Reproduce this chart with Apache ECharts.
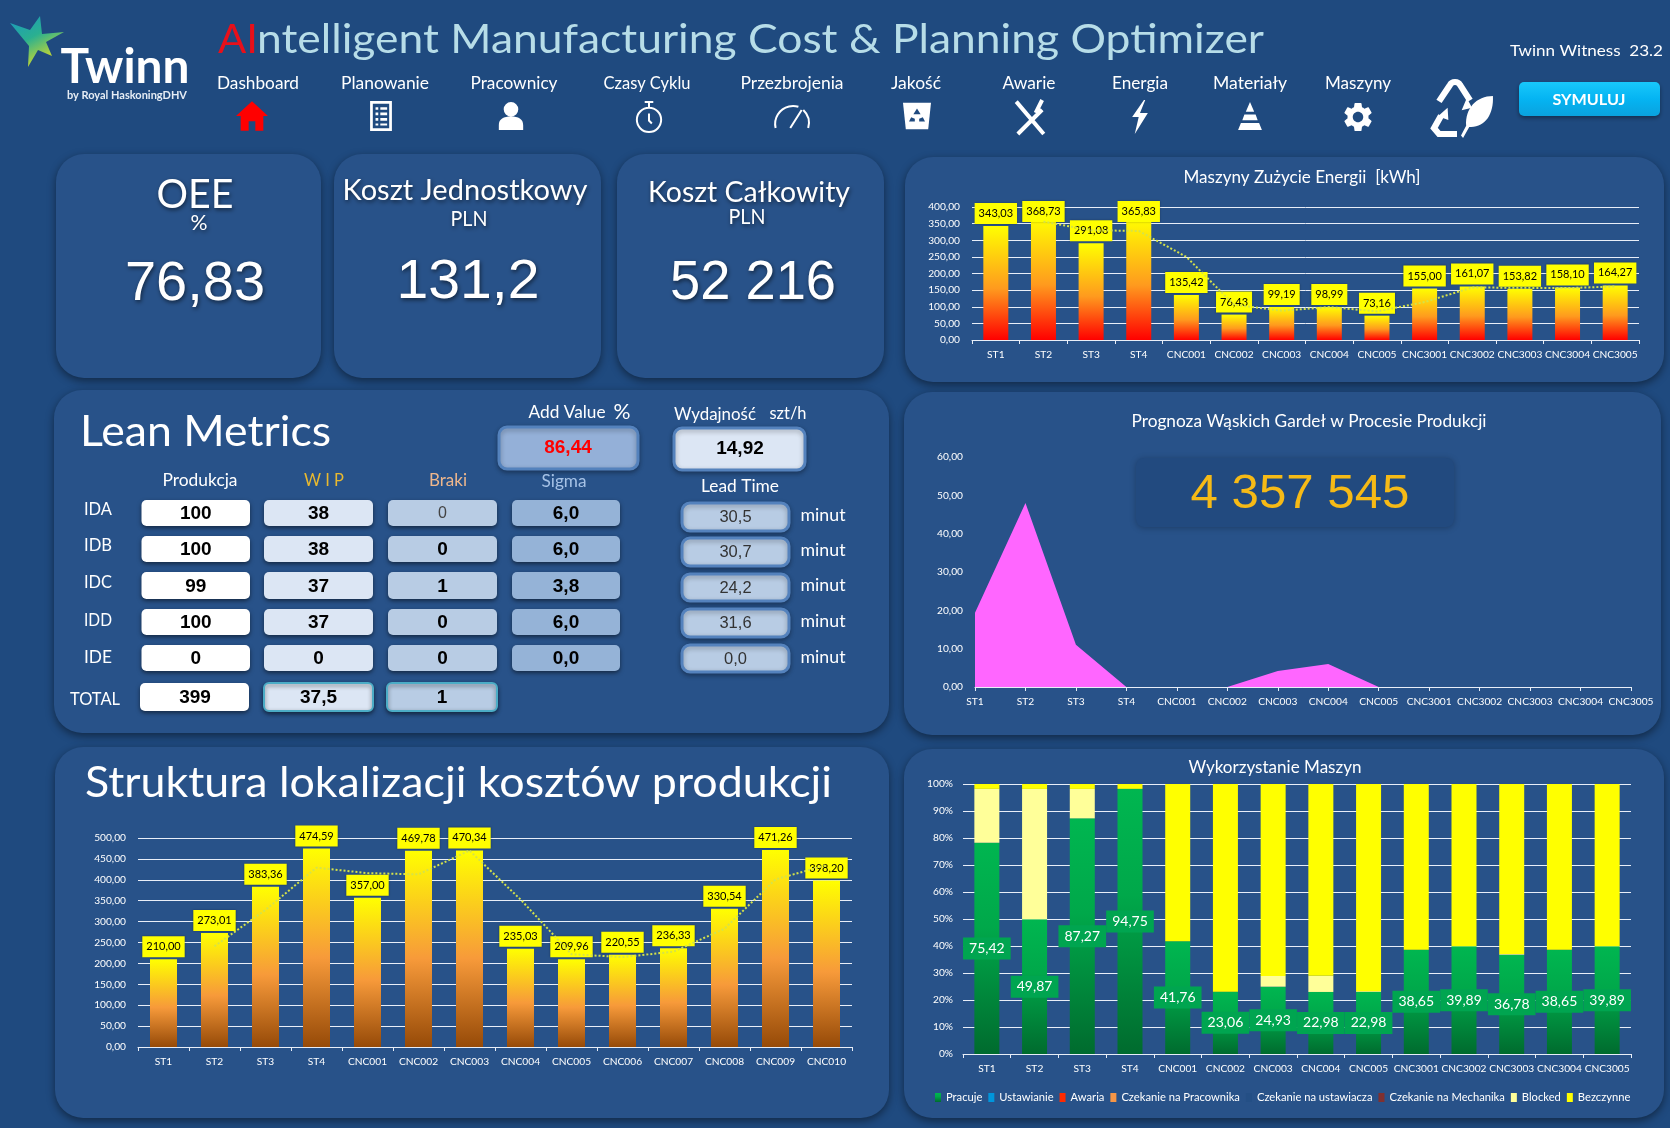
<!DOCTYPE html>
<html><head><meta charset="utf-8">
<style>html,body{margin:0;padding:0;background:#1f4a7f}#c{width:1670px;height:1128px}</style>
<script src="https://cdn.jsdelivr.net/npm/echarts@6/dist/echarts.min.js"></script>
</head><body><div id="c"></div>
<svg id="m" width="10" height="10" style="position:absolute;left:-100px;top:-100px"><path id="mp"></path></svg>
<script>
// ---- data
const energyCats=['ST1','ST2','ST3','ST4','CNC001','CNC002','CNC003','CNC004','CNC005','CNC3001','CNC3002','CNC3003','CNC3004','CNC3005'];
const energyVals=[343.03,368.73,291.08,365.83,135.42,76.43,99.19,98.99,73.16,155.00,161.07,153.82,158.10,164.27];
const energyTrend=[null,356,330,328,250,106,88,99,86,114,158,157,156,161];
const costCats=['ST1','ST2','ST3','ST4','CNC001','CNC002','CNC003','CNC004','CNC005','CNC006','CNC007','CNC008','CNC009','CNC010'];
const costVals=[210.00,273.01,383.36,474.59,357.00,469.78,470.34,235.03,209.96,220.55,236.33,330.54,471.26,398.20];
const costTrend=[null,241,328,429,416,413,470,353,222,215,228,283,401,435];
const bottleVals=[19.4,48,11,0,0,0,4.2,6,0,0,0,0,0,0];
const usePracuje=[78.2,49.87,87.27,98.2,41.76,23.06,24.93,22.98,22.98,38.65,39.89,36.78,38.65,39.89];
const usePracujeLabels=['75,42','49,87','87,27','94,75','41,76','23,06','24,93','22,98','22,98','38,65','39,89','36,78','38,65','39,89'];
const useBlocked=[20,48.3,10.9,0,0,0,4,6,0.3,0,0,0.3,0,0];
const useIdle=[1.8,1.83,1.83,1.8,58.24,76.94,71.07,71.02,76.72,61.35,60.11,62.92,61.35,60.11];
const navLabels=['Dashboard','Planowanie','Pracownicy','Czasy Cyklu','Przezbrojenia','Jakość','Awarie','Energia','Materiały','Maszyny'];
const rowNames=['IDA','IDB','IDC','IDD','IDE'];
const prodVals=['100','100','99','100','0'];
const wipVals=['38','38','37','37','0'];
const brakiVals=['0','0','1','0','0'];
const sigmaVals=['6,0','6,0','3,8','6,0','0,0'];
const leadVals=['30,5','30,7','24,2','31,6','0,0'];
const totals=['399','37,5','1'];
// ---- drawing helpers
const CAL='Lato', ARI='"Liberation Sans"';
const mctx=document.createElement('canvas').getContext('2d');
const G=[];
function T(text,x,y,o){o=o||{};
  const fam=o.family||CAL,size=o.size||16,weight=o.weight||'normal';
  let scaleX=1;
  if(o.w){mctx.font=weight+' '+size+'px '+fam;scaleX=o.w/mctx.measureText(text).width;}
  const style={text,x:0,y:0,fill:o.color||'#fff',font:weight+' '+size+'px '+fam,textAlign:o.align||'center',textVerticalAlign:'middle'};
  if(o.shadow){style.textShadowColor='rgba(0,0,0,.55)';style.textShadowBlur=4;style.textShadowOffsetX=1;style.textShadowOffsetY=2;}
  G.push({type:'text',x,y:y+size*0.05,scaleX,z:3,silent:true,style});
}
function R(x1,y1,x2,y2,r,fill,o){o=o||{};
  const style={fill};
  if(o.stroke){style.stroke=o.stroke;style.lineWidth=o.lw||2;}
  if(o.shadow!==false){style.shadowColor='rgba(0,0,0,'+(o.sa||.4)+')';style.shadowBlur=o.sb||5;style.shadowOffsetY=o.sy||2;style.shadowOffsetX=o.sx||0;}
  G.push({type:'rect',z:o.z||1,silent:true,shape:{x:x1,y:y1,width:x2-x1,height:y2-y1,r},style});
}
let pathN=0;
const mp=document.getElementById('mp');
function P(d,x,y,w,h,style,layout){
  mp.setAttribute('d',d);
  const b=mp.getBBox();
  let sx=w/b.width,sy=h/b.height;
  let ox=x,oy=y;
  if(layout!=='cover'){const s=Math.min(sx,sy);sx=sy=s;ox=x+(w-b.width*s)/2;oy=y+(h-b.height*s)/2;}
  const name='iconPath'+(++pathN);
  echarts.graphic.registerShape(name,echarts.graphic.extendPath(d,{}));
  const st=Object.assign({},style);
  if(st.lineWidth)st.lineWidth=st.lineWidth/Math.min(sx,sy);
  G.push({type:name,z:2,silent:true,x:ox-b.x*sx,y:oy-b.y*sy,scaleX:sx,scaleY:sy,style:st});
}
const fillW={fill:'#fff'}, strW={fill:'none',stroke:'#fff',lineWidth:2};
// ---- cards
const CARD='#285289';
[[56,154,321,378],[334,154,601,378],[617,154,884,378],[905,157,1664,382],[54,390,889,733],[904,392,1661,735],[55,747,889,1118],[904,749,1664,1118]]
 .forEach(c=>R(c[0],c[1],c[2],c[3],28,CARD,{sa:.45,sb:9,sy:3,z:-5}));
// ---- logo
P('M10 23L30 30L40 16L42 34L64 32L46 42L52 56L38 50L28 67L29 46Z',10,16,54,51,{fill:{type:'linear',x:0,y:0,x2:.5,y2:1,colorStops:[{offset:0,color:'#1a98c0'},{offset:.5,color:'#2ab090'},{offset:1,color:'#d2da2a'}]}},'cover');
T('Twinn',125,65,{size:47,weight:'bold',w:129,family:CAL});
T('by Royal HaskoningDHV',127,95,{size:11,weight:'bold',w:120,color:'#e6edf5'});
// ---- header
T('AI',218,38,{size:41,align:'left',color:'#e8101a',w:40});
T('ntelligent Manufacturing Cost & Planning Optimizer',257,38,{size:41,align:'left',color:'#b7dde8',w:1007});
T('Twinn Witness  23.2',1510,50,{size:16,align:'left',w:153});
const navX=[258,385,514,647,792,916,1029,1140,1250,1358];
const navW=[82,88,87,87,103,50,53,56,74,66];
navLabels.forEach((n,i)=>T(n,navX[i],83,{size:17,w:navW[i]}));
P('M12 1L0 12h3.5v11h6v-7h5v7h6V12H24z',236,100,32,32,{fill:'#ff0000'});
P('M4 1H20V23H4Z M6 3V21H18V3Z M8 5.5h2v2H8z M11.5 5.5h5v2h-5z M8 9.5h2v2H8z M11.5 9.5h5v2h-5z M8 13.5h2v2H8z M11.5 13.5h5v2h-5z M8 17.5h2v1.5H8z M11.5 17.5h5v1.5h-5z',366,101,30,30,fillW);
P('M12 1a6 6 0 1 1 -0.01 0z M2 24v-4c0-5 4-7 10-7s10 2 10 7v4z',497,102,28,28,fillW);
P('M12 6a8.5 8.5 0 1 0 .01 0z M12 6V2 M9 2h6 M12 10v5l2 2',634,102,30,30,strW);
P('M2 20a11 11 0 0 1 14-13 M19 9a11 11 0 0 1 3 11 M11 20l7-11',774,106,36,22,strW);
P('M2 4h20l-2 19H4z',903,101,28,30,fillW);
P('M12 9l2.5 4h-5z M8 15l-1.5 3h4v-2z M16 15l1.5 3h-4v-2z',909,107,16,16,{fill:'#1f4a7f'});
P('M4 3L21 23 M20 8L5 23 M16 10l4-8',1013,100,34,34,{fill:'none',stroke:'#fff',lineWidth:4});
P('M14 0L5 13h5L7 26 17 10h-6l4-10z',1128,100,24,34,fillW);
P('M12 0l3 7H9z M8 9h8l1.5 4h-11z M5.5 15h13l2 5H3.5z',1233,102,34,28,fillW);
P('M19.14 12.94c.04-.3.06-.61.06-.94 0-.32-.02-.64-.07-.94l2.03-1.58c.18-.14.23-.41.12-.61l-1.92-3.32c-.12-.22-.37-.29-.59-.22l-2.39.96c-.5-.38-1.03-.7-1.62-.94l-.36-2.54c-.04-.24-.24-.41-.48-.41h-3.84c-.24 0-.43.17-.47.41l-.36 2.54c-.59.24-1.13.57-1.62.94l-2.39-.96c-.22-.08-.47 0-.59.22L2.74 8.87c-.12.21-.08.47.12.61l2.03 1.58c-.05.3-.09.63-.09.94s.02.64.07.94l-2.03 1.58c-.18.14-.23.41-.12.61l1.92 3.32c.12.22.37.29.59.22l2.39-.96c.5.38 1.03.7 1.62.94l.36 2.54c.05.24.24.41.48.41h3.84c.24 0 .44-.17.47-.41l.36-2.54c.59-.24 1.13-.56 1.62-.94l2.39.96c.22.08.47 0 .59-.22l1.92-3.32c.12-.22.07-.47-.12-.61l-2.01-1.58zM12 15.6c-1.98 0-3.6-1.62-3.6-3.6s1.62-3.6 3.6-3.6 3.6 1.62 3.6 3.6-1.62 3.6-3.6 3.6z',1344,103,28,28,fillW);
P('M31 60H13L8 54L15 41 M13 26L24 9C26 5 32 5 34 9L44 25',1434,82,36,52,{fill:'none',stroke:'#fff',lineWidth:6},'cover');
P('M6 38L20 43L19 27Z M38 30L52 27L45 14Z',1438,98,34,22,fillW,'cover');
P('M62 40C46 40 35 50 36 64L31 72L33 74L39 65C54 66 63 55 62 40Z',1461,96,32,42,fillW,'cover');
R(1519,82,1660,116,5,{type:'linear',x:0,y:0,x2:0,y2:1,colorStops:[{offset:0,color:'#18c8fb'},{offset:.5,color:'#05b4f2'},{offset:1,color:'#0aa2de'}]},{sb:4,sy:2,z:2});
T('SYMULUJ',1589,99,{size:15,weight:'bold',w:73});
// ---- KPI cards
T('OEE',195,193,{size:40,w:77,shadow:1});
T('%',199,222,{size:21,shadow:1,w:17});
T('76,83',195,282,{size:56,family:ARI,shadow:1,w:140});
T('Koszt Jednostkowy',465,189,{size:29,shadow:1,w:245});
T('PLN',469,218,{size:21,shadow:1,w:37});
T('131,2',468,280,{size:56,family:ARI,shadow:1,w:143});
T('Koszt Całkowity',749,191,{size:29,shadow:1,w:202});
T('PLN',747,216,{size:21,shadow:1,w:37});
T('52 216',753,281,{size:55,family:ARI,shadow:1,w:166});
// ---- Lean metrics
T('Lean Metrics',80,430,{size:42,align:'left',w:251});
T('Add Value',567,412,{size:17,w:77});
T('%',622,411,{size:22,w:17});
T('Wydajność',715,414,{size:17,w:82});
T('szt/h',788,413,{size:17,w:37});
R(499,427,638,469,8,'#94b0d8',{stroke:'#5482bd',lw:3,sa:.3});
T('86,44',568,447,{size:19,weight:'bold',family:ARI,color:'#ff0000'});
R(674,428,805,470,8,'#dce6f4',{stroke:'#5482bd',lw:3,sa:.3});
T('14,92',740,448,{size:19,weight:'bold',family:ARI,color:'#000'});
T('Produkcja',200,480,{size:16.5,w:75});
T('W I P',324,480,{size:16.5,color:'#e9b92f',w:40});
T('Braki',448,480,{size:16.5,color:'#efb78c',w:38});
T('Sigma',564,481,{size:16.5,color:'#a6c2e6',w:45});
T('Lead Time',740,486,{size:16.5,w:78});
const rowY=[[500,526],[536,562],[572,599],[609,635],[645,671]];
const rowLY=[509,545,582,620,657];
const colX=[[141.5,250],[264,373],[388,497],[512,620]];
const colFill=['#ffffff','#dce6f4','#b8cce4','#95b3d7'];
[prodVals,wipVals,brakiVals,sigmaVals].forEach((vals,c)=>{
  vals.forEach((v,r)=>{
    R(colX[c][0],rowY[r][0],colX[c][1],rowY[r][1],5,colFill[c],{sb:4,sy:2,sa:.5});
    const plain=(c===2&&r===0);
    T(v,(colX[c][0]+colX[c][1])/2,(rowY[r][0]+rowY[r][1])/2,{size:plain?16:19,family:ARI,weight:plain?'normal':'bold',color:plain?'#444':'#000'});
  });
});
rowNames.forEach((n,i)=>T(n,98,rowLY[i],{size:16.5,w:28}));
T('TOTAL',95,699,{size:16.5,w:50});
R(140,683,249,711,5,'#ffffff',{sb:4,sy:2,sa:.5});
R(264,683,373,711,5,'#dce6f4',{stroke:'#4bacc6',lw:2,sb:4,sy:2,sa:.5});
R(387,683,497,711,5,'#b8cce4',{stroke:'#4bacc6',lw:2,sb:4,sy:2,sa:.5});
totals.forEach((v,i)=>T(v,[195,318.5,442][i],697,{size:19,family:ARI,weight:'bold',color:'#000'}));
const leadY=[[503,531],[538,566],[574,601],[609,637],[645,672]];
const minutY=[515,550,585,621,657];
leadVals.forEach((v,i)=>{
  R(682,leadY[i][0],789,leadY[i][1],8,'#b8cce4',{stroke:'#5482bd',lw:3,sa:.3});
  T(v,735.5,(leadY[i][0]+leadY[i][1])/2,{size:16.5,family:ARI,color:'#333'});
  T('minut',823,minutY[i],{size:17,w:45});
});
T('Struktura lokalizacji kosztów produkcji',85,781,{size:42,align:'left',w:747});
// ---- chart titles
T('Maszyny Zużycie Energii  [kWh]',1302,177,{size:17,w:237});
T('Prognoza Wąskich Gardeł w Procesie Produkcji',1309,421,{size:17,w:355});
T('Wykorzystanie Maszyn',1275,767,{size:17,w:173});
R(1136,458,1454,527,8,'#224a7f',{sa:.25,sb:6,sy:1,z:1});
T('4 357 545',1300,492,{size:48,family:ARI,color:'#f6ba16',w:219});
// ---- chart option pieces
const comma=v=>v.toFixed(2).replace('.',',');
const AXF=10.2;
function xAx(i,cats,boundary){return {type:'category',gridIndex:i,data:cats,boundaryGap:boundary,
  axisLine:{lineStyle:{color:'#e8eef8',width:1}},axisTick:{show:true,length:4,lineStyle:{color:'#e8eef8'}},
  axisLabel:{color:'#fff',fontFamily:CAL,fontSize:AXF,margin:10,interval:0,hideOverlap:false},splitLine:{show:false}};}
function yAx(i,max,step,fmt,split,margin){return {type:'value',gridIndex:i,min:0,max,interval:step,
  axisLine:{show:false},axisTick:{show:false},axisLabel:{color:'#fff',fontFamily:CAL,fontSize:AXF,margin:margin||12,formatter:fmt},
  splitLine:{show:split,lineStyle:{color:'#e8eef8',width:1}}};}
function grad(stops){return {type:'linear',x:0,y:0,x2:0,y2:1,colorStops:stops};}
function barS(name,i,vals,stops,bw,pad){return {name,type:'bar',xAxisIndex:i,yAxisIndex:i,data:vals,barWidth:bw,z:2,
  itemStyle:{color:grad(stops)},
  label:{show:true,position:'top',distance:2,backgroundColor:'#ffff00',color:'#000',fontFamily:CAL,fontSize:11,padding:pad,formatter:p=>comma(p.value),shadowColor:'rgba(0,0,0,.3)',shadowBlur:2}};}
function trendS(name,i,vals){return {name,type:'line',xAxisIndex:i,yAxisIndex:i,data:vals,symbol:'none',z:3,
  lineStyle:{type:'dotted',width:2,color:'#d5e24a'}};}
const redStops=[{offset:0,color:'#ffff00'},{offset:.55,color:'#ff9a1e'},{offset:1,color:'#ff0000'}];
const brownStops=[{offset:0,color:'#ffff00'},{offset:.55,color:'#f79a3a'},{offset:1,color:'#964a08'}];
const none=energyCats.map(()=>null);
function stack(name,vals,color){return {name,type:'bar',stack:'u',xAxisIndex:3,yAxisIndex:3,data:vals,barWidth:25,itemStyle:{color},z:2};}
const option={
  backgroundColor:'#1f4a7f',animation:false,
  grid:[
    {left:972,top:207,width:667,height:133},
    {left:975,top:457,width:656,height:230},
    {left:138,top:838,width:714,height:209},
    {left:963,top:784,width:668,height:270}
  ],
  xAxis:[xAx(0,energyCats,true),xAx(1,energyCats,false),xAx(2,costCats,true),xAx(3,energyCats,true)],
  yAxis:[yAx(0,400,50,comma,true),yAx(1,60,10,comma,false),yAx(2,500,50,comma,true),yAx(3,100,10,'{value}%',true,10)],
  legend:{left:930,top:1087,itemWidth:6,itemHeight:9,itemGap:6,icon:'rect',textStyle:{color:'#fff',fontFamily:CAL,fontSize:11.2},selectedMode:false,
    data:['Pracuje','Ustawianie','Awaria','Czekanie na Pracownika','Czekanie na ustawiacza','Czekanie na Mechanika','Blocked','Bezczynne']},
  graphic:{elements:G},
  series:[
    Object.assign(barS('Energia',0,energyVals,redStops,25,[5,4]),{labelLayout:p=>p.labelRect.y<200?{x:p.rect.x+p.rect.width/2-p.labelRect.width/2,y:201,align:'left',verticalAlign:'top'}:{}}),
    trendS('Energia trend',0,energyTrend),
    {name:'Prognoza',type:'line',xAxisIndex:1,yAxisIndex:1,data:bottleVals,symbol:'none',lineStyle:{width:0},areaStyle:{color:'#ff66ff',opacity:1}},
    barS('Koszt',2,costVals,brownStops,27,[5,4]),
    trendS('Koszt trend',2,costTrend),
    Object.assign(stack('Pracuje',usePracuje,grad([{offset:0,color:'#00b650'},{offset:.4,color:'#00a84a'},{offset:1,color:'#006b2e'}])),
      {label:{show:true,position:'inside',backgroundColor:'#00a550',color:'#fff',fontFamily:CAL,fontSize:14,padding:[4,6],formatter:p=>usePracujeLabels[p.dataIndex]}}),
    stack('Ustawianie',none,'#0096dc'),
    stack('Awaria',none,'#ff2a00'),
    stack('Czekanie na Pracownika',none,'#f79646'),
    stack('Czekanie na ustawiacza',none,'#244f85'),
    stack('Czekanie na Mechanika',none,'#7f3030'),
    stack('Blocked',useBlocked,'#ffff99'),
    stack('Bezczynne',useIdle,'#ffff00')
  ]
};
echarts.init(document.getElementById('c'),null,{renderer:'canvas'}).setOption(option);
</script></body></html>
